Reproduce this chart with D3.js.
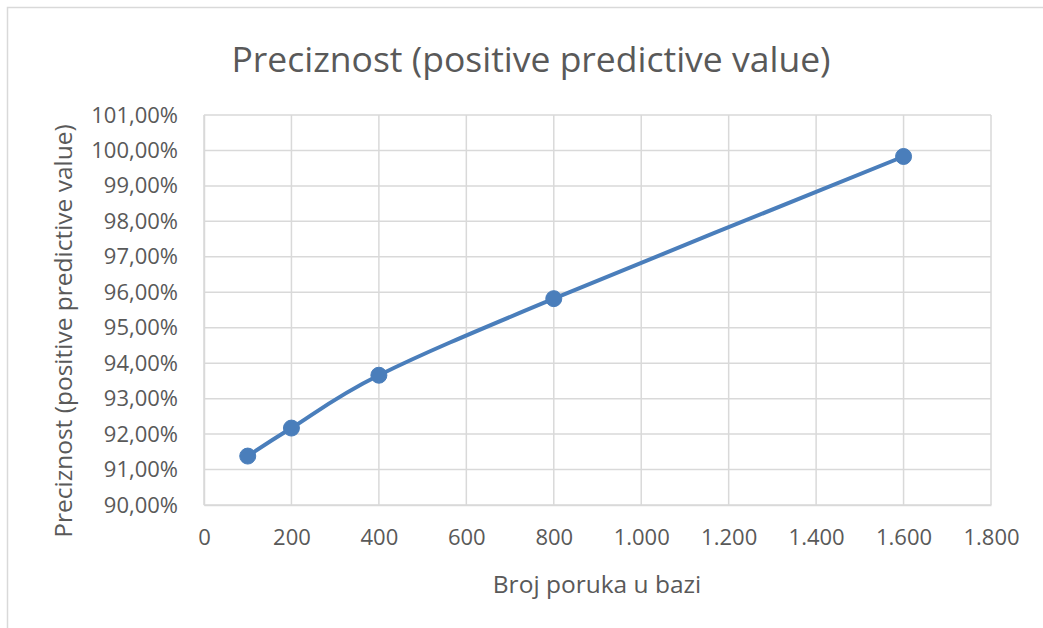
<!DOCTYPE html>
<html>
<head>
<meta charset="utf-8">
<script src="https://cdn.jsdelivr.net/npm/d3@7/dist/d3.min.js"></script>
<style>
  html, body { margin: 0; padding: 0; background: #fff; }
  svg { display: block; }
  text { font-family: "Open Sans", "Noto Sans", sans-serif; fill: #595959; }
</style>
</head>
<body>
<svg id="chart" width="1043" height="628"></svg>
<script>
// Number of messages in the database and the resulting precision
const messageCounts = [100, 200, 400, 800, 1600];
const precisionValues = [0.9138, 0.9217, 0.9366, 0.9582, 0.9983];

const xTicks = [0, 200, 400, 600, 800, 1000, 1200, 1400, 1600, 1800];
const yTicks = [0.90, 0.91, 0.92, 0.93, 0.94, 0.95, 0.96, 0.97, 0.98, 0.99, 1.00, 1.01];

const titleText = "Preciznost (positive predictive value)";
const xAxisTitle = "Broj poruka u bazi";
const yAxisTitle = "Preciznost (positive predictive value)";

const svg = d3.select("#chart");
const W = 1043, H = 628;
const plot = { left: 204, right: 991, top: 115, bottom: 505 };

// Chart area border (only top and left edges are inside the frame)
svg.append("rect")
  .attr("x", 7.5).attr("y", 7.5)
  .attr("width", W + 10).attr("height", H + 10)
  .attr("fill", "#fff").attr("stroke", "#d9d9d9").attr("stroke-width", 1.5);

const x = d3.scaleLinear().domain([0, 1800]).range([plot.left, plot.right]);
const y = d3.scaleLinear().domain([0.90, 1.01]).range([plot.bottom, plot.top]);

// Euro-style number formatting: dot for thousands, comma for decimals
const locale = d3.formatLocale({ decimal: ",", thousands: ".", grouping: [3], currency: ["", "€"] });
const fmtX = locale.format(",d");
const fmtY = d => locale.format(".2f")(d * 100) + "%";

// Gridlines
const grid = svg.append("g").attr("stroke", "#d9d9d9").attr("stroke-width", 1.5);
grid.selectAll("line.h").data(yTicks).join("line")
  .attr("x1", plot.left).attr("x2", plot.right)
  .attr("y1", d => y(d)).attr("y2", d => y(d));
grid.selectAll("line.v").data(xTicks).join("line")
  .attr("y1", plot.top).attr("y2", plot.bottom)
  .attr("x1", d => x(d)).attr("x2", d => x(d));

// Axes
const xAxis = svg.append("g")
  .attr("transform", `translate(0,${plot.bottom})`)
  .call(d3.axisBottom(x).tickValues(xTicks).tickFormat(fmtX).tickSize(0).tickPadding(24));
const yAxis = svg.append("g")
  .attr("transform", `translate(${plot.left},0)`)
  .call(d3.axisLeft(y).tickValues(yTicks).tickFormat(fmtY).tickSize(0).tickPadding(26));
[xAxis, yAxis].forEach(a => {
  a.select(".domain").attr("stroke", "#d9d9d9").attr("stroke-width", 1.5);
  a.selectAll("text").style("font-size", "22px").attr("fill", "#595959");
});

// Smoothed series line and markers
const pts = messageCounts.map((c, i) => [c, precisionValues[i]]);
const line = d3.line()
  .x(d => x(d[0])).y(d => y(d[1]))
  .curve(d3.curveCardinal.tension(0));
svg.append("path").datum(pts)
  .attr("d", line)
  .attr("fill", "none").attr("stroke", "#4a7ebb").attr("stroke-width", 4)
  .attr("stroke-linecap", "round");
svg.selectAll("circle.pt").data(pts).join("circle")
  .attr("cx", d => x(d[0])).attr("cy", d => y(d[1])).attr("r", 8)
  .attr("fill", "#4a7ebb").attr("stroke", "#4a7ebb").attr("stroke-width", 1);

// Titles
svg.append("text")
  .attr("x", 531).attr("y", 72).attr("text-anchor", "middle")
  .style("font-size", "35.5px").text(titleText);
svg.append("text")
  .attr("x", 597).attr("y", 593).attr("text-anchor", "middle")
  .style("font-size", "24.5px").text(xAxisTitle);
svg.append("text")
  .attr("transform", `translate(72,331) rotate(-90)`).attr("text-anchor", "middle")
  .style("font-size", "24.5px").text(yAxisTitle);
</script>
</body>
</html>
